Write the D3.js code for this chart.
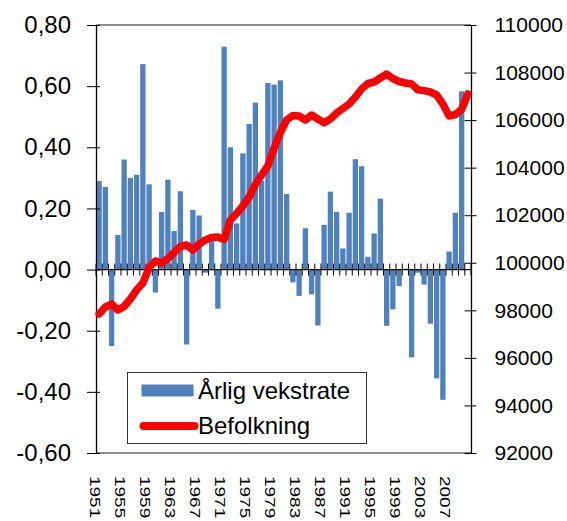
<!DOCTYPE html>
<html>
<head>
<meta charset="utf-8">
<script src="https://cdn.jsdelivr.net/npm/d3@7"></script>
<style>
  body { margin: 0; background: #fff; }
  svg { display: block; font-family: "Liberation Sans", Arial, sans-serif; }
</style>
</head>
<body>
<svg id="chart" width="567" height="521"></svg>
<script>
"use strict";

const years = d3.range(1951, 2011)

// årlig vekstrate (%), 2010 has no bar
const growth = [
	0.29, 0.27, -0.25, 0.113, 0.36, 0.30, 0.31, 0.672, 0.279, -0.075,
	0.188, 0.294, 0.126, 0.256, -0.245, 0.195, 0.177, -0.01, 0.116, -0.128,
	0.729, 0.40, 0.151, 0.38, 0.476, 0.546, 0.29, 0.61, 0.605, 0.619,
	0.247, -0.042, -0.086, 0.135, -0.081, -0.183, 0.146, 0.255, 0.189, 0.069,
	0.186, 0.361, 0.338, 0.042, 0.118, 0.232, -0.184, -0.130, -0.054, 0.003,
	-0.287, -0.01, -0.049, -0.177, -0.356, -0.426, 0.059, 0.186, 0.583, null
]

// befolkning
const population = [
	97850, 98140, 98266, 98014, 98161, 98477, 98855, 99150, 99801, 100075,
	99978, 100176, 100432, 100685, 100748, 100537, 100790, 100958, 101063, 101084,
	100979, 101799, 102072, 102388, 102766, 103292, 103692, 104070, 104827, 105479,
	106005, 106194, 106173, 106005, 106215, 106047, 105891, 106047, 106299, 106488,
	106678, 106972, 107308, 107540, 107603, 107771, 107939, 107750, 107624, 107561,
	107519, 107275, 107241, 107182, 107056, 106678, 106173, 106236, 106446, 107098
]

const leftTicks = [-0.6, -0.4, -0.2, 0, 0.2, 0.4, 0.6, 0.8]
const rightTicks = [92000, 94000, 96000, 98000, 100000, 102000, 104000, 106000, 108000, 110000]
const labelYears = years.filter(y => (y - 1951) % 4 == 0 && y <= 2007)
const legendLabels = ['Årlig vekstrate', 'Befolkning']

const blue = '#4F81BD', red = '#FF0000'
const L = 96, R = 471, T = 25, B = 453

const svg = d3.select('#chart')
const nb = d3.formatLocale({decimal: ',', thousands: ' ', grouping: [3], currency: ['', ''], minus: '-'})
const fmtL = nb.format('.2f')

const x = d3.scaleBand().domain(years).range([L, R]).paddingInner(0.15).paddingOuter(0.075)
const yL = d3.scaleLinear().domain([-0.6, 0.8]).range([B, T])
const yR = d3.scaleLinear().domain([92000, 110000]).range([B, T])
const cx = d => x(d) + x.bandwidth() / 2

// frame top / bottom
svg.append('line').attr('x1', L).attr('x2', R).attr('y1', T).attr('y2', T)
	.attr('stroke', '#8c8c8c').attr('stroke-width', 2)
svg.append('line').attr('x1', L).attr('x2', R).attr('y1', B).attr('y2', B)
	.attr('stroke', '#8c8c8c').attr('stroke-width', 2)

// bars
const bars = years.map((y, i) => ({year: y, v: growth[i]})).filter(d => d.v != null)
svg.append('g').selectAll('rect')
	.data(bars)
	.enter()
	.append('rect')
	.attr('x', d => x(d.year))
	.attr('width', x.bandwidth())
	.attr('y', d => yL(Math.max(0, d.v)))
	.attr('height', d => Math.abs(yL(d.v) - yL(0)))
	.attr('fill', blue)

// category axis at zero
const y0 = yL(0)
const cat = svg.append('g')
cat.append('line').attr('x1', L).attr('x2', R).attr('y1', y0).attr('y2', y0)
	.attr('stroke', '#000').attr('stroke-width', 1.3)
cat.selectAll('line.tk')
	.data(d3.range(years.length + 1))
	.enter()
	.append('line')
	.attr('class', 'tk')
	.attr('x1', i => L + i * x.step())
	.attr('x2', i => L + i * x.step())
	.attr('y1', y0 - 6).attr('y2', y0 + 6)
	.attr('stroke', '#000').attr('stroke-width', 1)

// left axis
const gl = svg.append('g').attr('transform', `translate(${L},0)`)
	.call(d3.axisLeft(yL).tickValues(leftTicks).tickFormat(fmtL).tickSizeInner(9).tickSizeOuter(0).tickPadding(16))
gl.selectAll('.tick line').attr('x1', 4).attr('stroke', '#000')
gl.select('.domain').attr('stroke', '#000').attr('stroke-width', 1.3)
gl.selectAll('text').attr('font-size', 24).attr('fill', '#000').attr('font-family', '"Liberation Sans", Arial, sans-serif')

// right axis
const gr = svg.append('g').attr('transform', `translate(${R},0)`)
	.call(d3.axisRight(yR).tickValues(rightTicks).tickFormat(d3.format('d')).tickSizeInner(5.5).tickSizeOuter(0).tickPadding(18))
gr.selectAll('.tick line').attr('x1', -6.5).attr('stroke', '#000')
gr.select('.domain').attr('stroke', '#000').attr('stroke-width', 1.3)
gr.selectAll('text').attr('font-size', 21).attr('fill', '#000').attr('font-family', '"Liberation Sans", Arial, sans-serif')

// year labels
svg.append('g').selectAll('text')
	.data(labelYears)
	.enter()
	.append('text')
	.attr('transform', d => `translate(${cx(d) - 3.8},476) scale(0.8,1) rotate(90)`)
	.attr('dy', '0.35em')
	.attr('font-size', 19)
	.text(d => d)

// population line
const line = d3.line().x((d, i) => cx(years[i])).y(d => yR(d)).curve(d3.curveLinear)
svg.append('path')
	.datum(population)
	.attr('d', line)
	.attr('fill', 'none')
	.attr('stroke', red)
	.attr('stroke-width', 7.5)
	.attr('stroke-linejoin', 'round')
	.attr('stroke-linecap', 'round')

// legend
const lg = svg.append('g').attr('transform', 'translate(127.5,372.5)')
lg.append('rect').attr('width', 239).attr('height', 71)
	.attr('fill', '#fff').attr('stroke', '#333').attr('stroke-width', 1)
lg.append('rect').attr('x', 14).attr('y', 12).attr('width', 52).attr('height', 12).attr('fill', blue)
lg.append('line').attr('x1', 16).attr('x2', 67).attr('y1', 53.5).attr('y2', 53.5)
	.attr('stroke', red).attr('stroke-width', 8).attr('stroke-linecap', 'round')
lg.selectAll('text.lab')
	.data(legendLabels)
	.enter()
	.append('text')
	.attr('class', 'lab')
	.attr('x', 70.5)
	.attr('y', (d, i) => 26 + i * 35)
	.attr('font-size', 24)
	.text(d => d)
</script>
</body>
</html>
